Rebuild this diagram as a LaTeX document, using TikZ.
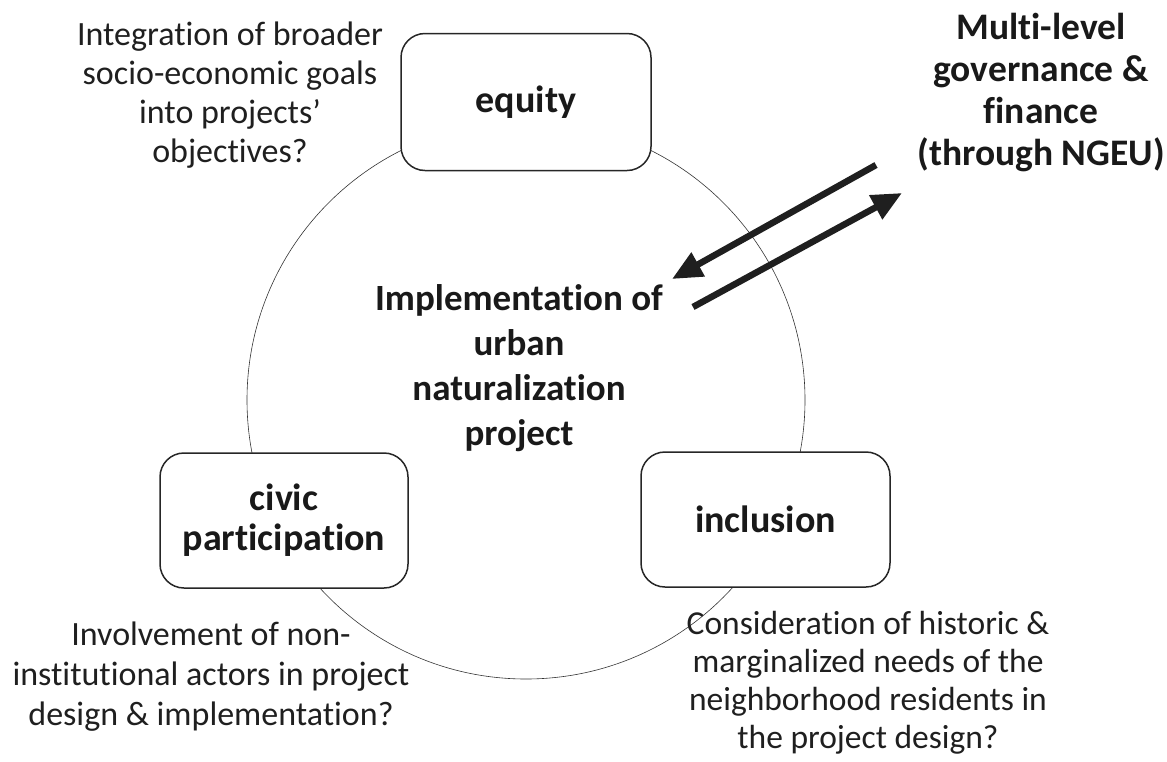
\documentclass[tikz,border=0pt]{standalone}
\usepackage{fontspec}
\setmainfont{Carlito}[Ligatures=NoCommon]
\usetikzlibrary{arrows.meta}
\begin{document}
\begin{tikzpicture}[x=1pt,y=-1pt,
  box/.style={draw=black!85,line width=1.5pt,rounded corners=24pt,fill=white,inner sep=0pt,align=center,font=\fontsize{38}{40}\selectfont\bfseries,text=black!90},
  plain/.style={align=center,inner sep=0pt,font=\fontsize{34}{39}\selectfont,text=black!88},
  bold/.style={align=center,inner sep=0pt,font=\fontsize{37.5}{42}\selectfont\bfseries,text=black!90},
  bigarrow/.style={line width=6.5pt,black!88,-{Triangle[length=30pt,width=26pt]}}]
\useasboundingbox (0,0) rectangle (1167,761);
\draw[line width=0.6pt,black!80] (526,400) circle[radius=279];
\node[box,minimum width=250,minimum height=137] (equity) at (526,102) {equity};
\node[box,minimum width=248,minimum height=135] (civic) at (284,520.5) {civic\\participation};
\node[box,minimum width=249,minimum height=135] (incl) at (765.5,519.5) {inclusion};
\node[plain] (t1) at (230,95) {Integration of broader\\socio-economic goals\\into projects’\\objectives?};
\node[bold] (t2) at (1041,93) {Multi-level\\governance \&\\finance\\(through NGEU)};
\node[bold,font=\fontsize{37}{45}\selectfont\bfseries] (t3) at (519,368) {Implementation of\\urban\\naturalization\\project};
\node[plain,font=\fontsize{34}{40}\selectfont] (t4) at (211,677) {Involvement of non-\\institutional actors in project\\design \& implementation?};
\node[plain,font=\fontsize{33.5}{38}\selectfont] (t5) at (868,683) {Consideration of historic \&\\marginalized needs of the\\neighborhood residents in\\the project design?};
\coordinate (a1s) at (876,165);
\coordinate (a1e) at (672,279);
\coordinate (a2s) at (693,307);
\coordinate (a2e) at (902,193);
\draw[bigarrow] (a1s) -- (a1e);
\draw[bigarrow] (a2s) -- (a2e);
\end{tikzpicture}
\end{document}
